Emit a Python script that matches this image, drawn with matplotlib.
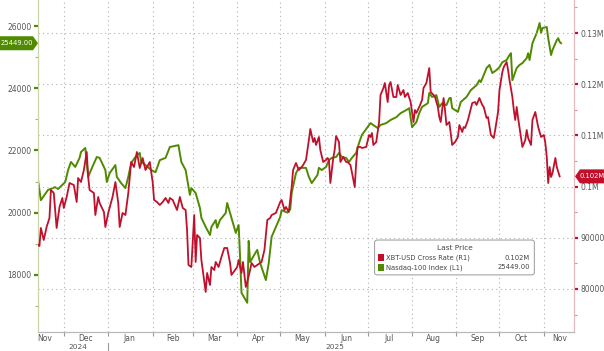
import pandas as pd
import matplotlib
matplotlib.use("Agg")
import matplotlib.pyplot as plt
import matplotlib.dates as mdates
import matplotlib.transforms as mtransforms
from matplotlib.patches import FancyBboxPatch, Rectangle, Polygon
from matplotlib.ticker import FixedLocator, FuncFormatter, MultipleLocator

# Nasdaq-100 Index (left axis)
ndx_dates = [
    "2024-11-13", "2024-11-15", "2024-11-20", "2024-11-25", "2024-11-27", "2024-12-02", "2024-12-04",
    "2024-12-06", "2024-12-09", "2024-12-12", "2024-12-13", "2024-12-16", "2024-12-18", "2024-12-20",
    "2024-12-24", "2024-12-26", "2024-12-30", "2024-12-31", "2025-01-02", "2025-01-06", "2025-01-07",
    "2025-01-10", "2025-01-13", "2025-01-15", "2025-01-17", "2025-01-21", "2025-01-23", "2025-01-24",
    "2025-01-27", "2025-01-31", "2025-02-03", "2025-02-06", "2025-02-10", "2025-02-13", "2025-02-19",
    "2025-02-21", "2025-02-24", "2025-02-25", "2025-02-27", "2025-02-28", "2025-03-03", "2025-03-05",
    "2025-03-06", "2025-03-07", "2025-03-10", "2025-03-13", "2025-03-14", "2025-03-17", "2025-03-18",
    "2025-03-20", "2025-03-24", "2025-03-25", "2025-03-28", "2025-03-31", "2025-04-02", "2025-04-03",
    "2025-04-04", "2025-04-08", "2025-04-09", "2025-04-10", "2025-04-14", "2025-04-15", "2025-04-17",
    "2025-04-21", "2025-04-23", "2025-04-25", "2025-04-28", "2025-05-01", "2025-05-02", "2025-05-06",
    "2025-05-08", "2025-05-09", "2025-05-12", "2025-05-14", "2025-05-19", "2025-05-21", "2025-05-23",
    "2025-05-27", "2025-05-28", "2025-05-30", "2025-06-02", "2025-06-04", "2025-06-06", "2025-06-09",
    "2025-06-11", "2025-06-13", "2025-06-16", "2025-06-18", "2025-06-20", "2025-06-23", "2025-06-25",
    "2025-06-27", "2025-07-01", "2025-07-03", "2025-07-07", "2025-07-08", "2025-07-10", "2025-07-14",
    "2025-07-17", "2025-07-21", "2025-07-24", "2025-07-28", "2025-07-30", "2025-08-01", "2025-08-04",
    "2025-08-06", "2025-08-08", "2025-08-12", "2025-08-13", "2025-08-15", "2025-08-18", "2025-08-20",
    "2025-08-22", "2025-08-25", "2025-08-27", "2025-08-28", "2025-08-29", "2025-09-02", "2025-09-04",
    "2025-09-08", "2025-09-11", "2025-09-15", "2025-09-17", "2025-09-18", "2025-09-22", "2025-09-24",
    "2025-09-26", "2025-09-29", "2025-10-01", "2025-10-03", "2025-10-06", "2025-10-08", "2025-10-09",
    "2025-10-10", "2025-10-13", "2025-10-15", "2025-10-17", "2025-10-20", "2025-10-21", "2025-10-22",
    "2025-10-24", "2025-10-27", "2025-10-29", "2025-10-30", "2025-10-31", "2025-11-03", "2025-11-04",
    "2025-11-05", "2025-11-06", "2025-11-07", "2025-11-10", "2025-11-11", "2025-11-12", "2025-11-13",
]
ndx_values = [
    21050, 20400, 20730, 20820, 20760, 20985, 21370,
    21630, 21470, 21760, 21950, 22080, 21150, 21370,
    21790, 21760, 21370, 20985, 21270, 21530, 21150,
    20950, 20790, 21150, 21600, 21850, 21920, 21630,
    21530, 21370, 21300, 21690, 21760, 22110, 22170,
    21630, 21370, 21110, 20570, 20790, 20630, 20310,
    20150, 19830, 19540, 19280, 19540, 19760, 19510,
    19760, 19990, 20310, 19830, 19350, 19600, 18570,
    17420, 17100, 19090, 18410, 18730, 18800, 18380,
    17830, 18380, 19220, 19540, 19860, 20080, 20000,
    20100, 20630, 21270, 21440, 21440, 21150, 20950,
    21210, 21440, 21370, 21470, 21690, 21760, 21790,
    21920, 21790, 21760, 21630, 21760, 21920, 22240,
    22500, 22750, 22880, 22750, 22720, 22820, 22880,
    22980, 23070, 23200, 23300, 23360, 22750, 22910,
    23200, 23400, 23520, 23850, 23720, 23780, 23400,
    23520, 23460, 23680, 23690, 23360, 23240, 23560,
    23720, 23940, 24100, 24260, 24200, 24650, 24750,
    24490, 24590, 24680, 24840, 24910, 25070, 25130,
    24260, 24650, 24750, 24810, 24970, 25130, 24910,
    25450, 25780, 26100, 25780, 25940, 25970, 25610,
    25330, 25070, 25230, 25550, 25610, 25490, 25449,
]

# XBT-USD Cross Rate (right axis)
xbt_dates = [
    "2024-11-13", "2024-11-14", "2024-11-15", "2024-11-17", "2024-11-19", "2024-11-21", "2024-11-22",
    "2024-11-24", "2024-11-26", "2024-11-28", "2024-11-30", "2024-12-01", "2024-12-03", "2024-12-05",
    "2024-12-08", "2024-12-10", "2024-12-11", "2024-12-13", "2024-12-15", "2024-12-17", "2024-12-18",
    "2024-12-19", "2024-12-22", "2024-12-23", "2024-12-25", "2024-12-26", "2024-12-29", "2024-12-30",
    "2025-01-01", "2025-01-04", "2025-01-06", "2025-01-08", "2025-01-09", "2025-01-11", "2025-01-13",
    "2025-01-15", "2025-01-17", "2025-01-19", "2025-01-21", "2025-01-23", "2025-01-25", "2025-01-27",
    "2025-01-30", "2025-02-01", "2025-02-02", "2025-02-04", "2025-02-06", "2025-02-08", "2025-02-10",
    "2025-02-12", "2025-02-13", "2025-02-15", "2025-02-18", "2025-02-20", "2025-02-22", "2025-02-24",
    "2025-02-25", "2025-02-26", "2025-02-28", "2025-03-02", "2025-03-03", "2025-03-04", "2025-03-06",
    "2025-03-07", "2025-03-10", "2025-03-11", "2025-03-13", "2025-03-14", "2025-03-16", "2025-03-17",
    "2025-03-19", "2025-03-21", "2025-03-23", "2025-03-25", "2025-03-27", "2025-03-28", "2025-04-01",
    "2025-04-02", "2025-04-04", "2025-04-05", "2025-04-07", "2025-04-08", "2025-04-10", "2025-04-11",
    "2025-04-13", "2025-04-15", "2025-04-18", "2025-04-20", "2025-04-22", "2025-04-24", "2025-04-25",
    "2025-04-28", "2025-05-01", "2025-05-02", "2025-05-04", "2025-05-05", "2025-05-07", "2025-05-09",
    "2025-05-10", "2025-05-12", "2025-05-14", "2025-05-16", "2025-05-17", "2025-05-19", "2025-05-21",
    "2025-05-22", "2025-05-24", "2025-05-25", "2025-05-26", "2025-05-28", "2025-05-29", "2025-05-31",
    "2025-06-02", "2025-06-03", "2025-06-04", "2025-06-05", "2025-06-07", "2025-06-08", "2025-06-09",
    "2025-06-11", "2025-06-12", "2025-06-14", "2025-06-16", "2025-06-17", "2025-06-19", "2025-06-20",
    "2025-06-22", "2025-06-23", "2025-06-24", "2025-06-26", "2025-06-27", "2025-06-30", "2025-07-02",
    "2025-07-03", "2025-07-04", "2025-07-05", "2025-07-07", "2025-07-09", "2025-07-10", "2025-07-12",
    "2025-07-13", "2025-07-15", "2025-07-16", "2025-07-17", "2025-07-19", "2025-07-21", "2025-07-22",
    "2025-07-24", "2025-07-26", "2025-07-27", "2025-07-29", "2025-07-31", "2025-08-02", "2025-08-03",
    "2025-08-04", "2025-08-06", "2025-08-08", "2025-08-09", "2025-08-11", "2025-08-13", "2025-08-14",
    "2025-08-16", "2025-08-17", "2025-08-19", "2025-08-20", "2025-08-21", "2025-08-23", "2025-08-24",
    "2025-08-25", "2025-08-27", "2025-08-29", "2025-08-31", "2025-09-02", "2025-09-03", "2025-09-05",
    "2025-09-06", "2025-09-07", "2025-09-09", "2025-09-12", "2025-09-14", "2025-09-15", "2025-09-17",
    "2025-09-19", "2025-09-20", "2025-09-22", "2025-09-23", "2025-09-25", "2025-09-27", "2025-09-28",
    "2025-09-30", "2025-10-01", "2025-10-03", "2025-10-04", "2025-10-06", "2025-10-07", "2025-10-08",
    "2025-10-10", "2025-10-11", "2025-10-12", "2025-10-13", "2025-10-14", "2025-10-16", "2025-10-17",
    "2025-10-19", "2025-10-20", "2025-10-21", "2025-10-23", "2025-10-24", "2025-10-26", "2025-10-28",
    "2025-10-30", "2025-11-01", "2025-11-02", "2025-11-03", "2025-11-04", "2025-11-05", "2025-11-06",
    "2025-11-07", "2025-11-09", "2025-11-10", "2025-11-12",
]
xbt_values = [
    88600, 88400, 91920, 89570, 92110, 93870, 99340,
    98750, 91920, 96020, 97780, 95820, 97970, 100700,
    100310, 96990, 101680, 100900, 103240, 106760, 101880,
    99340, 98750, 94450, 97970, 96800, 95040, 92110,
    94850, 97970, 100900, 96800, 92110, 94850, 94450,
    98750, 104810, 103830, 106760, 103630, 105590, 103240,
    104810, 100900, 97390, 96990, 96410, 96990, 97780,
    96800, 97780, 97390, 95430, 97970, 95820, 95430,
    91530, 84690, 84300, 94450, 85280, 90550, 89960,
    85670, 79420, 83130, 80790, 84300, 83710, 85280,
    84300, 86250, 88010, 88010, 85080, 82740, 84300,
    85670, 83130, 85280, 80400, 81370, 83710, 85080,
    84300, 84690, 85280, 87620, 93480, 93870, 94450,
    94850, 96990, 97390, 95430, 96020, 95040, 99920,
    103240, 104610, 103240, 103830, 104220, 105200, 109100,
    111250, 108710, 109490, 108130, 109690, 107150, 104810,
    105200, 105590, 105200, 100700, 105590, 107150, 109880,
    108710, 104810, 105780, 104810, 104810, 104220, 102850,
    99920, 104610, 107740, 107740, 107540, 107740, 110080,
    109690, 110470, 108130, 108710, 112620, 117890, 119260,
    120240, 116520, 119840, 120430, 117500, 117500, 119840,
    117890, 118870, 117500, 118280, 116520, 112620, 114960,
    114380, 115550, 116920, 119260, 120240, 123160, 118480,
    117890, 117500, 115550, 113590, 112620, 117300, 114960,
    112030, 112620, 108130, 108710, 109690, 112030, 110670,
    111640, 111450, 113010, 116330, 116520, 115940, 117300,
    115940, 115550, 113400, 113590, 110080, 109490, 111060,
    114570, 118870, 122380, 123360, 124340, 122770, 120820,
    117500, 114960, 113010, 115550, 113400, 109690, 107740,
    109100, 111060, 109490, 108130, 113010, 114570, 111640,
    109690, 110080, 108520, 105780, 100700, 103830, 101880,
    102660, 105590, 103830, 102000,
]

month_labels = ["Nov", "Dec", "Jan", "Feb", "Mar", "Apr", "May", "Jun", "Jul", "Aug", "Sep", "Oct", "Nov"]
month_label_dates = ["2024-11-18", "2024-12-16", "2025-01-16", "2025-02-15", "2025-03-16", "2025-04-16",
                     "2025-05-16", "2025-06-16", "2025-07-16", "2025-08-16", "2025-09-16", "2025-10-16",
                     "2025-11-12"]
ndx_last = "25449.00"
xbt_last = "0.102M"
ndx_last_value = 25449
xbt_last_value = 102000

green = "#4f8a00"
red = "#c0102c"
txt = "#555555"
fs = 5.5

ndx_x = pd.to_datetime(ndx_dates)
xbt_x = pd.to_datetime(xbt_dates)

W, H = 604, 351
fig = plt.figure(figsize=(W / 100, H / 100), dpi=100, facecolor="white")
ax = fig.add_axes([38 / W, 1 - 332 / H, 536 / W, 332 / H])
ax2 = ax.twinx()

ax.plot(ndx_x, ndx_values, color=green, lw=1.4, zorder=3)
ax2.plot(xbt_x, xbt_values, color=red, lw=1.3, zorder=3)

ax.set_xlim(pd.Timestamp("2024-11-13"), pd.Timestamp("2025-11-22"))
ax.set_ylim(16160, 26840)
ax2.set_ylim(71600, 136450)

# x axis: ticks at month starts, labels mid-month
ax.xaxis.set_major_locator(mdates.MonthLocator(bymonthday=1))
ax.xaxis.set_major_formatter(FuncFormatter(lambda v, p: ""))
ax.xaxis.set_minor_locator(FixedLocator(mdates.date2num(pd.to_datetime(month_label_dates))))
ax.xaxis.set_minor_formatter(FuncFormatter(lambda v, p: month_labels[p] if p < len(month_labels) else ""))
ax.tick_params(axis="x", which="minor", length=0, labelsize=fs, labelcolor=txt, pad=1.2)
ax.tick_params(axis="x", which="major", length=3, color="#999999", direction="out")
ax.grid(axis="x", which="major", linestyle=(0, (1, 3)), color="#b0b0b0", lw=0.8)

# left axis
ax.yaxis.set_major_locator(MultipleLocator(2000))
ax.yaxis.set_minor_locator(MultipleLocator(1000))
ax.yaxis.set_major_formatter(FuncFormatter(lambda v, p: f"{v:.0f}"))
ax.tick_params(axis="y", which="major", length=3, width=1.6, color=green, direction="out",
               labelsize=fs, labelcolor=txt, pad=1.5)
ax.tick_params(axis="y", which="minor", length=2, width=0.8, color="#9bbf6a", direction="out")

# right axis
def fmt_right(v, p):
    if v >= 100000:
        return f"{v / 1e6:g}M"
    return f"{v:.0f}"

ax2.yaxis.set_major_locator(MultipleLocator(10000))
ax2.yaxis.set_minor_locator(MultipleLocator(5000))
ax2.yaxis.set_major_formatter(FuncFormatter(fmt_right))
ax2.tick_params(axis="y", which="major", length=3, width=1.6, color=red, direction="out",
                labelsize=fs, labelcolor=txt, pad=1.5)
ax2.tick_params(axis="y", which="minor", length=2, width=0.8, color="#e08a98", direction="out")
ax2.grid(axis="y", which="major", linestyle=(0, (1, 3)), color="#b0b0b0", lw=0.8)

for a in (ax, ax2):
    a.spines["top"].set_visible(False)
    a.spines["left"].set_color("#cdd3a8")
    a.spines["right"].set_color("#e6b8c0")
    a.spines["bottom"].set_color("#b8b8b8")

# year labels under the month labels
btrans = mtransforms.blended_transform_factory(ax.transData, ax.transAxes)
ax.text(mdates.date2num(pd.Timestamp("2024-12-11")), -0.044, "2024", transform=btrans,
        ha="center", va="center", fontsize=5.3, color=txt)
ax.text(mdates.date2num(pd.Timestamp("2025-06-08")), -0.044, "2025", transform=btrans,
        ha="center", va="center", fontsize=5.3, color=txt)
jan1 = mdates.date2num(pd.Timestamp("2025-01-01"))
ax.plot([jan1, jan1], [-0.033, -0.058], transform=btrans, color="#999999", lw=0.8, clip_on=False)

# last price tags, placed at the last values
fig.canvas.draw()
to_fig = fig.transFigure.inverted()
gy = to_fig.transform(ax.transData.transform((0, ndx_last_value)))[1]
ry = to_fig.transform(ax2.transData.transform((0, xbt_last_value)))[1]
hh = 7 / H
gpts = [(0, gy - hh), (33 / W, gy - hh), (38 / W, gy), (33 / W, gy + hh), (0, gy + hh)]
fig.patches.append(Polygon(gpts, closed=True, transform=fig.transFigure, fc=green, ec="none"))
fig.text(17 / W, gy, ndx_last, ha="center", va="center", fontsize=4.9, color="white")
rpts = [(575 / W, ry), (580 / W, ry - hh), (1, ry - hh), (1, ry + hh), (580 / W, ry + hh)]
fig.patches.append(Polygon(rpts, closed=True, transform=fig.transFigure, fc=red, ec="none"))
fig.text(592 / W, ry, xbt_last, ha="center", va="center", fontsize=4.9, color="white")

# legend box
x0, y0, w, h = 0.628, 0.172, 0.298, 0.105
ax2.add_patch(FancyBboxPatch((x0, y0), w, h, boxstyle="round,pad=0,rounding_size=0.006",
                             transform=ax2.transAxes, fc="white", ec="#999999", lw=0.7, zorder=8))
ax2.text(x0 + w / 2, y0 + h - 0.016, "Last Price", transform=ax2.transAxes, ha="center", va="top",
         fontsize=5.3, color="#444444", zorder=9)
rows = [(red, "XBT-USD Cross Rate (R1)", xbt_last), (green, "Nasdaq-100 Index (L1)", ndx_last)]
for i, (c, lab, val) in enumerate(rows):
    yy = y0 + h - 0.053 - i * 0.029
    ax2.add_patch(Rectangle((x0 + 0.006, yy - 0.011), 0.011, 0.022, transform=ax2.transAxes,
                            fc=c, ec="none", zorder=9))
    ax2.text(x0 + 0.021, yy, lab, transform=ax2.transAxes, ha="left", va="center",
             fontsize=4.9, color="#444444", zorder=9)
    ax2.text(x0 + w - 0.008, yy, val, transform=ax2.transAxes, ha="right", va="center",
             fontsize=4.9, color="#444444", zorder=9)

fig.savefig("out.png", dpi=100, facecolor="white")
